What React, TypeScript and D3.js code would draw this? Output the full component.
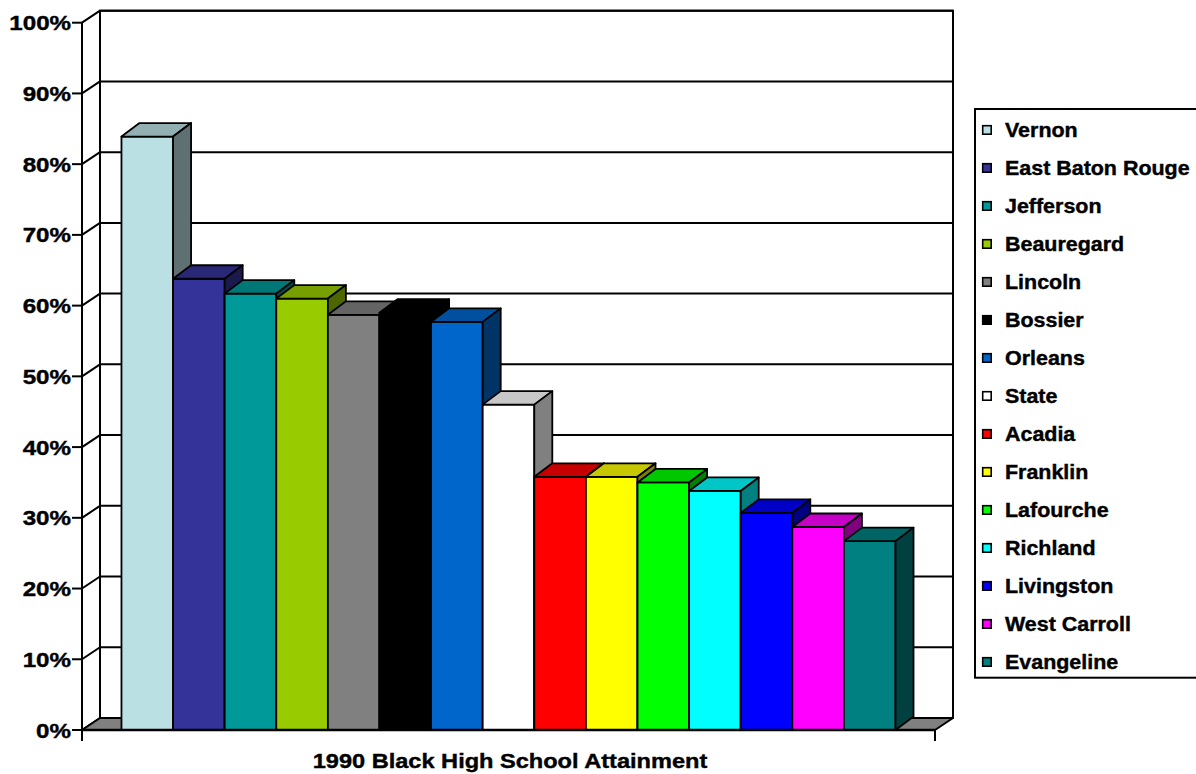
import React from "react";
import * as d3 from "d3";

// 1990 share of Black adults with a high school diploma, by Louisiana parish
const counties = [
  "Vernon",
  "East Baton Rouge",
  "Jefferson",
  "Beauregard",
  "Lincoln",
  "Bossier",
  "Orleans",
  "State",
  "Acadia",
  "Franklin",
  "Lafourche",
  "Richland",
  "Livingston",
  "West Carroll",
  "Evangeline",
];
const attainment = [83.9, 63.8, 61.7, 61.0, 58.7, 59.0, 57.7, 46.0, 35.8, 35.8, 35.0, 33.8, 30.7, 28.7, 26.7];
const fills = [
  "#BBE0E3",
  "#333399",
  "#009999",
  "#99CC00",
  "#808080",
  "#000000",
  "#0066CC",
  "#FFFFFF",
  "#FF0000",
  "#FFFF00",
  "#00FF00",
  "#00FFFF",
  "#0000FF",
  "#FF00FF",
  "#008080",
];
const tickValues = [0, 10, 20, 30, 40, 50, 60, 70, 80, 90, 100];
const tickLabels = ["0%", "10%", "20%", "30%", "40%", "50%", "60%", "70%", "80%", "90%", "100%"];
const axisTitle = "1990 Black High School Attainment";

const W = 1196;
const H = 774;
const FONT = "'Liberation Sans', Arial, sans-serif";

// depth offsets of the 3-D box
const wallDx = 18;
const wallDy = -12;
const barDx = 18;
const barDy = -13.5;

const frontLeft = 82;
const frontRight = 935;

const shade = (hex: string, k: number) => {
  const c = d3.rgb(hex);
  return d3.rgb(c.r * k, c.g * k, c.b * k).formatHex();
};

export default function App() {
  const y = d3.scaleLinear().domain([0, 100]).range([730, 22.7]);
  const x = d3
    .scaleBand<string>()
    .domain(counties)
    .range([frontLeft, frontRight])
    .paddingInner(0)
    .paddingOuter(0.765);
  const bw = x.bandwidth();
  const y0 = y(0);

  const pts = (p: [number, number][]) => p.map((q) => q.join(",")).join(" ");

  return (
    <svg
      width={W}
      height={H}
      viewBox={`0 0 ${W} ${H}`}
      style={{ position: "absolute", left: 0, top: 0, background: "#fff" }}
    >
      {/* back wall */}
      <rect
        x={frontLeft + wallDx}
        y={y(100) + wallDy}
        width={frontRight - frontLeft}
        height={y0 - y(100)}
        fill="#fff"
        stroke="#000"
        strokeWidth={2}
      />
      {/* gridlines on back wall and side wall */}
      {tickValues.map((t) => (
        <g key={`g${t}`}>
          <line
            x1={frontLeft + wallDx}
            x2={frontRight + wallDx}
            y1={y(t) + wallDy}
            y2={y(t) + wallDy}
            stroke="#000"
            strokeWidth={2}
          />
          <line
            x1={frontLeft}
            x2={frontLeft + wallDx}
            y1={y(t)}
            y2={y(t) + wallDy}
            stroke="#000"
            strokeWidth={2}
          />
        </g>
      ))}
      {/* floor */}
      <polygon
        points={pts([
          [frontLeft, y0],
          [frontLeft + wallDx, y0 + wallDy],
          [frontRight + wallDx, y0 + wallDy],
          [frontRight, y0],
        ])}
        fill="#808080"
        stroke="#000"
        strokeWidth={2}
        strokeLinejoin="round"
      />
      {/* bars */}
      {counties.map((name, i) => {
        const x0 = x(name)!;
        const yt = y(attainment[i]);
        const c = fills[i];
        return (
          <g key={name} stroke="#000" strokeWidth={1.8} strokeLinejoin="round">
            <rect x={x0} y={yt} width={bw} height={y0 - yt} fill={c} />
            <polygon
              points={pts([
                [x0, yt],
                [x0 + barDx, yt + barDy],
                [x0 + bw + barDx, yt + barDy],
                [x0 + bw, yt],
              ])}
              fill={shade(c, 0.78)}
            />
            <polygon
              points={pts([
                [x0 + bw, yt],
                [x0 + bw + barDx, yt + barDy],
                [x0 + bw + barDx, y0 + barDy],
                [x0 + bw, y0],
              ])}
              fill={shade(c, 0.5)}
            />
          </g>
        );
      })}
      {/* front floor edge and category ticks */}
      <line x1={frontLeft} x2={frontRight} y1={y0} y2={y0} stroke="#000" strokeWidth={2.5} />
      <line x1={frontLeft} x2={frontLeft} y1={y0} y2={y0 + 11} stroke="#000" strokeWidth={2} />
      <line x1={frontRight} x2={frontRight} y1={y0} y2={y0 + 11} stroke="#000" strokeWidth={2} />
      {/* value axis */}
      <line x1={frontLeft} x2={frontLeft} y1={y(100)} y2={y0} stroke="#000" strokeWidth={2} />
      {tickValues.map((t, i) => (
        <g key={`t${t}`}>
          <line x1={frontLeft - 10} x2={frontLeft} y1={y(t)} y2={y(t)} stroke="#000" strokeWidth={2} />
          <text
            transform={`translate(${frontLeft - 11},${y(t) + 7.5}) scale(1.15,1)`}
            textAnchor="end"
            fontFamily={FONT}
            fontWeight="bold"
            fontSize={21}
            fill="#000"
            stroke="#000"
            strokeWidth={0.4}
          >
            {tickLabels[i]}
          </text>
        </g>
      ))}
      {/* category axis title */}
      <text
        transform={`translate(510,767.5) scale(1.15,1)`}
        textAnchor="middle"
        fontFamily={FONT}
        fontWeight="bold"
        fontSize={20.5}
        fill="#000"
        stroke="#000"
        strokeWidth={0.4}
      >
        {axisTitle}
      </text>
      {/* legend */}
      <rect x={975} y={109} width={240} height={568.7} fill="#fff" stroke="#000" strokeWidth={2} />
      {counties.map((name, i) => {
        const by = 136.7 + i * 38;
        return (
          <g key={`l${name}`}>
            <rect x={982.7} y={by - 11} width={8.5} height={8.5} fill={fills[i]} stroke="#000" strokeWidth={1.6} />
            <text
              transform={`translate(1005,${by}) scale(1.1,1)`}
              fontFamily={FONT}
              fontWeight="bold"
              fontSize={19.5}
              fill="#000"
              stroke="#000"
              strokeWidth={0.4}
            >
              {name}
            </text>
          </g>
        );
      })}
    </svg>
  );
}
